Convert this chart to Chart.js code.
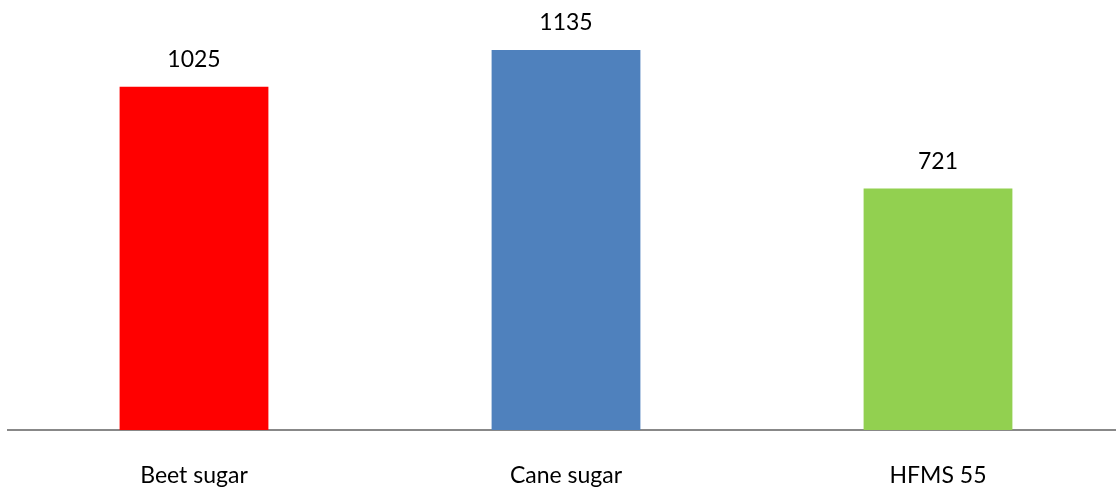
<!DOCTYPE html>
<html>
<head>
<meta charset="utf-8">
<script src="https://cdn.jsdelivr.net/npm/chart.js@4/dist/chart.umd.min.js"></script>
<style>
  html, body { margin: 0; padding: 0; background: #fff; overflow: hidden; }
  #wrap { position: absolute; left: 0; top: 0; width: 1124px; height: 487px; }
</style>
</head>
<body>
<div id="wrap"><canvas id="sugarChart"></canvas></div>
<script>
var categories = ["Beet sugar", "Cane sugar", "HFMS 55"];
var values = [1025, 1135, 721];
var barColors = ["#FF0000", "#4F81BD", "#92D050"];

// value labels above each bar
var valueLabels = {
  id: "valueLabels",
  afterDatasetsDraw: function (chart) {
    var ctx = chart.ctx;
    var meta = chart.getDatasetMeta(0);
    ctx.save();
    ctx.font = "23px Lato";
    ctx.fillStyle = "#000";
    ctx.textAlign = "center";
    ctx.textBaseline = "alphabetic";
    meta.data.forEach(function (bar, i) {
      ctx.fillText(values[i], bar.x, bar.y - 20);
    });
    ctx.restore();
  }
};

new Chart(document.getElementById("sugarChart"), {
  type: "bar",
  data: {
    labels: categories,
    datasets: [
      {
        data: values,
        backgroundColor: barColors,
        categoryPercentage: 1,
        barPercentage: 0.4
      }
    ]
  },
  options: {
    responsive: true,
    maintainAspectRatio: false,
    animation: false,
    layout: { padding: { left: 8, right: 0, top: 0, bottom: 0 } },
    plugins: {
      legend: { display: false },
      tooltip: { enabled: false }
    },
    scales: {
      x: {
        grid: { display: false },
        border: { display: true, color: "#888888", width: 2 },
        ticks: {
          color: "#000",
          padding: 24,
          font: { family: "Lato", size: 23 }
        },
        afterFit: function (axis) {
          axis.height = 57;
        }
      },
      y: {
        display: false,
        min: 0,
        max: 1284
      }
    }
  },
  plugins: [valueLabels]
});
</script>
</body>
</html>
